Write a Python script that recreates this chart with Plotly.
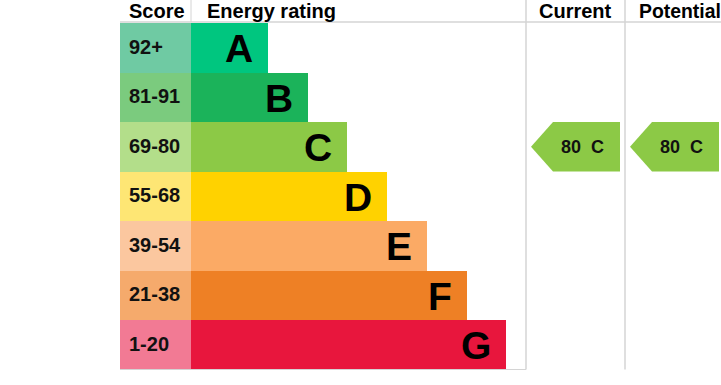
import plotly.graph_objects as go

# ---- data ----
bands = ["A", "B", "C", "D", "E", "F", "G"]
score_ranges = ["92+", "81-91", "69-80", "55-68", "39-54", "21-38", "1-20"]
score_lows = [92, 81, 69, 55, 39, 21, 1]
score_colors = ["#6fcaa3", "#7bcb7e", "#b3de8a", "#fee674", "#fbc79f", "#f5aa6c", "#f27a94"]
bar_colors = ["#00c67f", "#1bb35a", "#8cc946", "#ffd200", "#fbaa65", "#ee8025", "#e8163d"]
current_value = 80
potential_value = 80
headers = ["Score", "Energy rating", "Current", "Potential"]

# ---- layout constants ----
W, H = 721, 385
FONT = "Arial, Liberation Sans, sans-serif"
top = 23.0
row_h = 49.5
score_x0, score_x1 = 120, 191
bar_len0, bar_step = 77, 39.7
col_cur, col_pot, col_end = 526, 625, 721
grid = "#d4d4d4"

centers = [top + row_h * (i + 0.5) for i in range(len(bands))]
lengths = [bar_len0 + bar_step * i for i in range(len(bands))]

def band_of(v):
    for i, lo in enumerate(score_lows):
        if v >= lo:
            return i
    return len(bands) - 1

fig = go.Figure()
fig.add_trace(go.Bar(orientation="h", y=centers, x=[score_x1 - score_x0] * len(bands),
                     base=score_x0, width=row_h, marker=dict(color=score_colors, line_width=0),
                     hoverinfo="skip"))
fig.add_trace(go.Bar(orientation="h", y=centers, x=lengths, base=score_x1, width=row_h,
                     marker=dict(color=bar_colors, line_width=0), hoverinfo="skip"))

shapes = []
# header line
shapes.append(dict(type="line", x0=score_x0, x1=col_end, y0=22, y1=22, line=dict(color=grid, width=1.5)))
shapes.append(dict(type="line", x0=score_x1, x1=score_x1, y0=0, y1=22, line=dict(color=grid, width=1)))
for xv in (col_cur, col_pot):
    shapes.append(dict(type="line", x0=xv, x1=xv, y0=0, y1=top + row_h * 7, line=dict(color=grid, width=1.5)))
shapes.append(dict(type="line", x0=score_x0, x1=col_cur, y0=top + row_h * 7, y1=top + row_h * 7,
                   line=dict(color=grid, width=1)))

annotations = []
for i, b in enumerate(bands):
    annotations.append(dict(x=score_x0 + 7, y=centers[i] - 1, text="<b>%s</b>" % score_ranges[i],
                            xanchor="left", yanchor="middle", showarrow=False,
                            font=dict(family=FONT, size=20, color="#111")))
    annotations.append(dict(x=score_x1 + lengths[i] - 13, y=centers[i] + 1, text="<b>%s</b>" % b,
                            xanchor="right", yanchor="middle", showarrow=False,
                            font=dict(family=FONT, size=39, color="#000")))

# headers
hdr_pos = [(127, "left", 20), (205, "left", 20), ((col_cur + col_pot) / 2, "center", 20), (637, "left", 19.4)]
for (hx, anc, fs), t in zip(hdr_pos, headers):
    annotations.append(dict(x=hx, y=11, text="<b>%s</b>" % t, xanchor=anc, yanchor="middle",
                            showarrow=False, font=dict(family=FONT, size=fs, color="#000")))

# arrows
for val, x_tip, x_right in ((current_value, 531, 620), (potential_value, 630, 719)):
    bi = band_of(val)
    y0 = top + row_h * bi
    y1 = y0 + row_h
    ym = (y0 + y1) / 2
    xb = x_tip + 22
    shapes.append(dict(type="path",
                       path=f"M {x_tip},{ym} L {xb},{y0} L {x_right},{y0} L {x_right},{y1} L {xb},{y1} Z",
                       fillcolor=bar_colors[bi], line=dict(width=0)))
    annotations.append(dict(x=(xb + x_right) / 2 - 4, y=ym, text="<b>%d\u00a0\u00a0%s</b>" % (val, bands[bi]),
                            xanchor="center", yanchor="middle", showarrow=False,
                            font=dict(family=FONT, size=18, color="#111")))

fig.update_layout(width=W, height=H, margin=dict(l=0, r=0, t=0, b=0),
                  paper_bgcolor="white", plot_bgcolor="white", showlegend=False,
                  bargap=0, barmode="overlay", shapes=shapes, annotations=annotations,
                  xaxis=dict(range=[0, W], visible=False, fixedrange=True),
                  yaxis=dict(range=[H, 0], visible=False, fixedrange=True))
fig.write_html("out.html", config={"displayModeBar": False})
